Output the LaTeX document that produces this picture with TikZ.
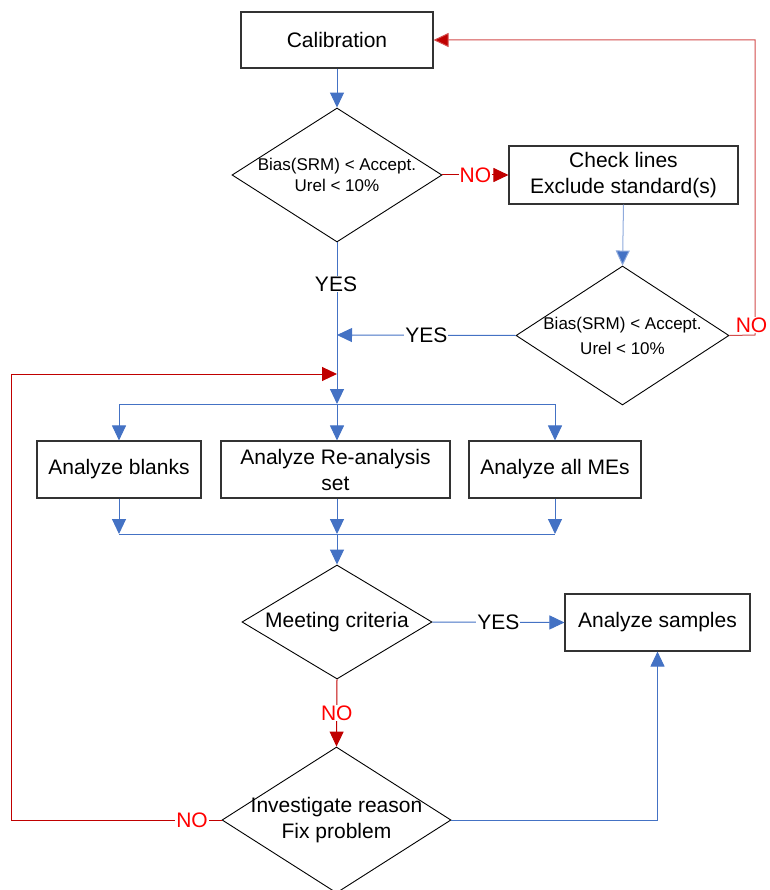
\documentclass[tikz,border=0pt]{standalone}
\usepackage{fontspec}
\setmainfont{Liberation Sans}
\usetikzlibrary{shapes.geometric,arrows.meta}
\definecolor{lblue}{HTML}{4472C4}
\definecolor{dred}{HTML}{C00000}
\definecolor{txtred}{HTML}{FF0000}
\begin{document}
\begin{tikzpicture}[x=1pt,y=-1pt,
  box/.style={draw=black!80, line width=1.1pt, fill=white, inner sep=0pt, align=center,
    font=\fontsize{21}{26}\selectfont},
  dia/.style={draw=black, line width=0.9pt, diamond, inner sep=0pt, aspect=1},
  dtext/.style={align=center, inner sep=0pt},
  bl/.style={draw=lblue, line width=1pt},
  blite/.style={draw=lblue!60, line width=1pt},
  rd/.style={draw=dred, line width=1pt},
  rlite/.style={draw=dred!70, line width=1pt},
  tipb/.style={-{Triangle[length=15pt,width=14pt,fill=lblue]}},
  tipr/.style={-{Triangle[length=15pt,width=14pt,fill=dred]}},
  lbl/.style={fill=white, inner sep=1pt, font=\fontsize{21}{26}\selectfont},
  nolbl/.style={lbl, text=txtred}
]
\useasboundingbox (0,0) rectangle (769,890);

% nodes
\node[box, minimum width=192pt, minimum height=56pt] (cal) at (337,40) {Calibration};
\node[dia, minimum width=210pt, minimum height=134pt] (d1) at (337,175) {};
\node[dtext, font=\fontsize{17}{21}\selectfont] (d1t) at (d1.center) {Bias(SRM) < Accept.\\Urel < 10\%};
\node[box, minimum width=229pt, minimum height=58pt] (chk) at (623.5,175) {Check lines\\Exclude standard(s)};
\node[dia, minimum width=213pt, minimum height=139pt] (d2) at (622.5,335.5) {};
\node[dtext, font=\fontsize{17}{25}\selectfont] (d2t) at (d2.center) {Bias(SRM) < Accept.\\Urel < 10\%};
\node[box, minimum width=164pt, minimum height=57pt] (b1) at (119,469.5) {Analyze blanks};
\node[box, minimum width=229pt, minimum height=57pt] (b2) at (335.5,469.5) {Analyze Re-analysis\\set};
\node[box, minimum width=172pt, minimum height=57pt] (b3) at (555,469.5) {Analyze all MEs};
\node[dia, minimum width=190pt, minimum height=114pt] (d3) at (337,622) {};
\node[dtext, font=\fontsize{21}{26}\selectfont] (d3t) at (d3.center) {Meeting criteria};
\node[box, minimum width=185pt, minimum height=57pt] (smp) at (657.5,622.5) {Analyze samples};
\node[dia, minimum width=229pt, minimum height=146pt] (d4) at (336.5,820) {};
\node[dtext, font=\fontsize{21}{26}\selectfont] (d4t) at (d4.center) {Investigate reason\\Fix problem};

% coordinates
\coordinate (j1) at (337,335);
\coordinate (j2) at (337,374);
\coordinate (split) at (337,404);
\coordinate (sL) at (119,404);
\coordinate (sR) at (555,404);
\coordinate (merge) at (337,534);
\coordinate (mL) at (119,534);
\coordinate (mR) at (555,534);
\coordinate (rc1) at (755,335);
\coordinate (rc2) at (755,40);
\coordinate (lc1) at (11,820);
\coordinate (lc2) at (11,374);

% connectors
\draw[bl, tipb] (cal.south) -- (d1.north);
\draw[rd, tipr] (d1.east) -- node[nolbl] {NO} (chk.west);
\draw[blite, tipb] (chk.south) -- (d2.north);
\draw[rlite, tipr] (d2.east) -- (rc1) -- (rc2) -- (cal.east);
\node[nolbl, inner sep=0.5pt] (no2) at (751.5,325) {NO};
\draw[bl, tipb] (d1.south) -- (split);
\node[lbl] (yes1) at (336,284) {YES};
\draw[bl, tipb] (d2.west) -- node[lbl] {YES} (j1);
\draw[rd, tipr] (d4.west) -- (lc1) -- (lc2) -- (j2);
\node[nolbl] (no3) at (192,820) {NO};

\draw[bl] (sL) -- (sR);
\draw[bl, tipb] (sL) -- (b1.north);
\draw[bl, tipb] (split) -- (split |- b2.north);
\draw[bl, tipb] (sR) -- (b3.north);

\draw[bl, tipb] (b1.south) -- (mL);
\draw[bl, tipb] (b2.south -| merge) -- (merge);
\draw[bl, tipb] (b3.south) -- (mR);
\draw[bl] (mL) -- (mR);
\draw[bl, tipb] (merge) -- (d3.north);

\draw[bl, tipb] (d3.east) -- node[lbl] {YES} (smp.west);
\draw[rd, tipr] (d3.south) -- node[nolbl] {NO} (d4.north);
\draw[bl, tipb] (d4.east) -| (smp.south);
\end{tikzpicture}
\end{document}
